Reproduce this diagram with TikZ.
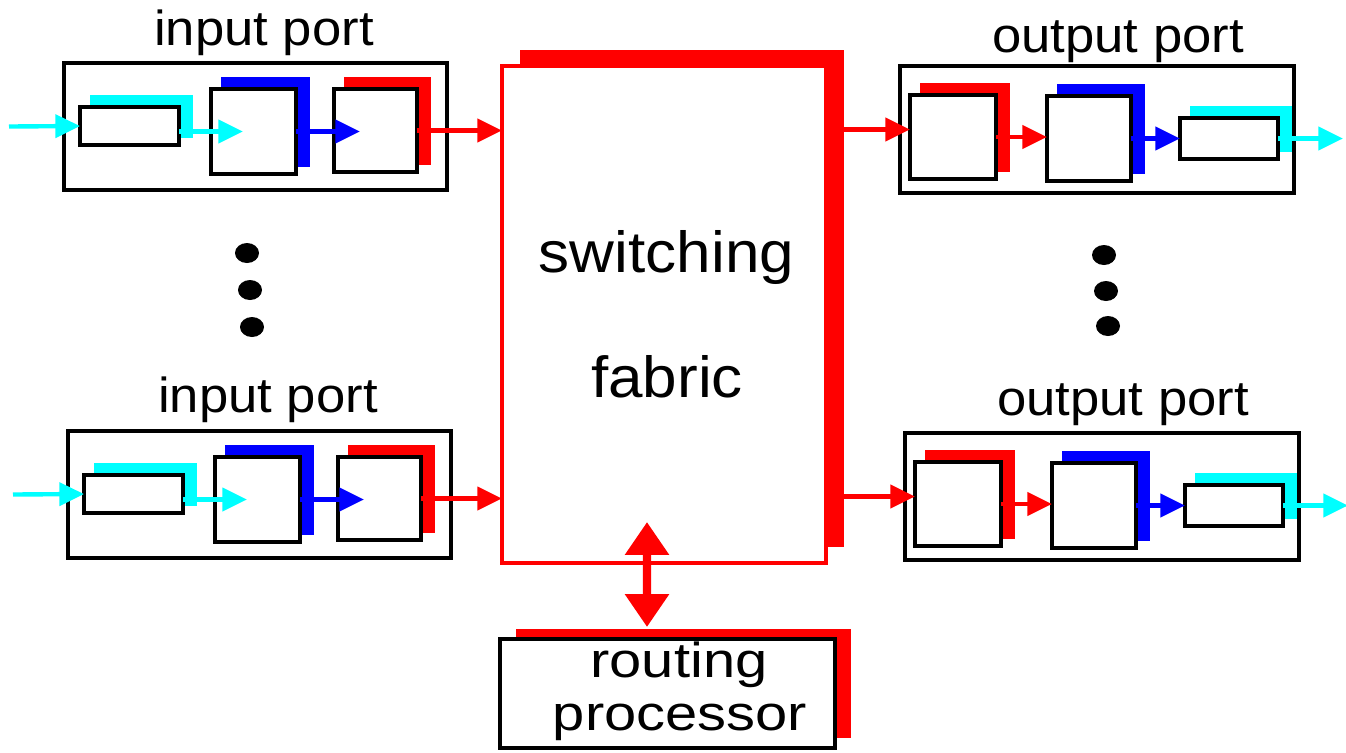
\documentclass[tikz,border=0pt]{standalone}
\usepackage{fontspec}
\setmainfont{Liberation Sans}
\usetikzlibrary{arrows.meta,positioning,shadows}
\definecolor{aqua}{rgb}{0,1,1}

\begin{document}
\begin{tikzpicture}[x=0.02cm,y=-0.02cm,
    every node/.style={inner sep=0pt,outer sep=0pt},
    unit/.style 2 args={draw,line width=2.4pt,fill=white,
                        minimum width=#1*0.02cm,minimum height=#2*0.02cm},
    lift/.style={general shadow={fill=#1,draw=#1,line width=2.4pt,opacity=1,
                 shadow xshift=0.24cm,shadow yshift=0.19cm}},
    flow/.style={draw=#1,line width=2.5pt,-{Triangle[length=14pt,width=13pt]}},
    lbl/.style={font=\fontsize{28}{34}\selectfont,anchor=base,xscale=1.07}]
  \path[use as bounding box,fill=white] (0,0) rectangle (1346,752);

  % switching fabric and routing processor
  \node[unit={324}{497},draw=red,
        general shadow={fill=red,opacity=1,shadow xshift=0.36cm,shadow yshift=0.32cm}]
        (fab) at (664,314.5) {};
  \node[lbl,font=\fontsize{33}{40}\selectfont] (sw) at (666.5,272) {switching};
  \node[lbl,font=\fontsize{33}{40}\selectfont] (fb) at (667,397) {fabric};
  \node[unit={335}{109},
        general shadow={fill=red,opacity=1,shadow xshift=0.32cm,shadow yshift=0.2cm}]
        (rp) at (667.5,693.5) {};
  \node[lbl,font=\fontsize{28}{34}\selectfont,xscale=1.1] (rt) at (679,677) {routing};
  \node[lbl,font=\fontsize{28}{34}\selectfont,xscale=1.1] (pr) at (680,730) {processor};

  % input ports
  \foreach \i/\dx/\dy/\ly in {1/0/0/45,2/4/368/412} {
    \node[unit={383}{127}] (ip\i) at (255.5+\dx,126.5+\dy) {};
    \node[lbl] (il\i) at (264+\dx,\ly) {input port};
    \node[unit={99}{38},lift=aqua] (q\i) at (129.5+\dx,126+\dy) {};
    \node[unit={85}{85},lift=blue] (s\i) at (253.5+\dx,131.5+\dy) {};
    \node[unit={83}{83},lift=red]  (t\i) at (375.5+\dx,130.5+\dy) {};
    \draw[flow=aqua] (ip\i.west) ++(-55,0) -- (q\i.west);
    \draw[flow=aqua] (q\i.east |- s\i.center) -- ++(64,0);
    \draw[flow=blue] (s\i.east) -- ++(64,0);
    \draw[flow=red]  (t\i.east) -- (t\i.east -| fab.west);
  }

  % output ports
  \foreach \i/\dx/\dy/\ly in {1/0/0/52,2/5/367/415} {
    \node[unit={394}{127}] (op\i) at (1097+\dx,129.5+\dy) {};
    \node[lbl] (ol\i) at (1118+\dx,\ly) {output port};
    \node[unit={86}{84},lift=red]  (r\i) at (953+\dx,137+\dy) {};
    \node[unit={84}{85},lift=blue] (b\i) at (1089+\dx,138.5+\dy) {};
    \node[unit={98}{41},lift=aqua] (c\i) at (1229+\dx,138.5+\dy) {};
    \draw[flow=red]  (op\i -| fab.east) -- (op\i -| r\i.west);
    \draw[flow=red]  (r\i.east) -- (r\i.east -| b\i.west);
    \draw[flow=blue] (b\i.east) -- (b\i.east -| c\i.west);
    \draw[flow=aqua] (c\i.east) -- ++(65,0);
  }

  % dots
  \foreach \x/\y in {247/253,250/290,252/327,1104/255,1106/291,1108/326}
    \fill (\x,\y) ellipse [x radius=0.24cm,y radius=0.2cm];

  \draw[draw=red,line width=4.8pt,{Triangle[length=18.7pt,width=24pt]}-{Triangle[length=18.7pt,width=24pt]}]
       ([xshift=-0.41cm,yshift=0.24cm]rp.north) -- ([xshift=-0.34cm,yshift=0.82cm]fab.south);
\end{tikzpicture}
\end{document}
